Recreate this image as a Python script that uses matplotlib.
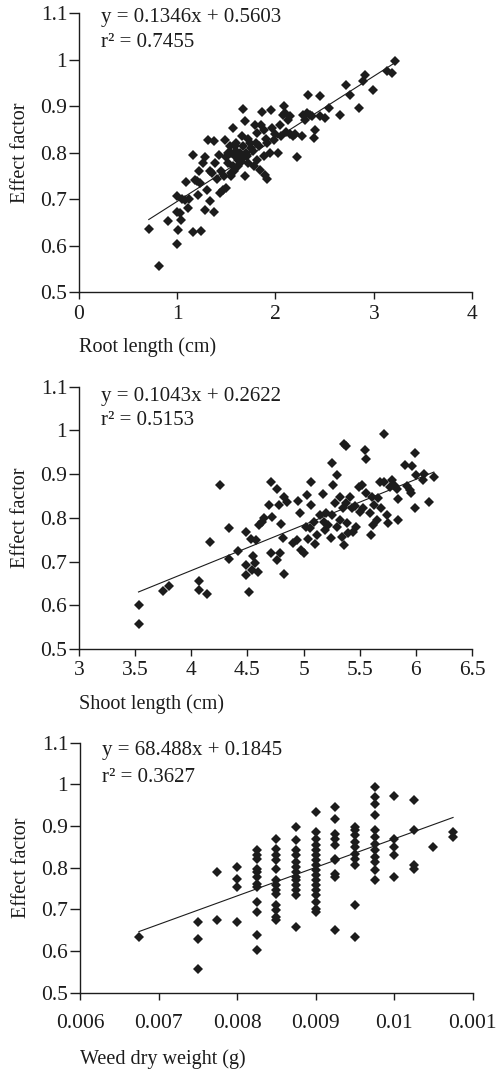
import numpy as np
import matplotlib
matplotlib.use("Agg")
import matplotlib.pyplot as plt

plt.rcParams["font.family"] = ["Liberation Serif", "DejaVu Serif"]

# Panel 1: root length vs effect factor
root_x = [0.71, 0.81, 0.91, 0.995, 1.01, 0.995, 1.03, 1.04, 0.995, 1.08, 1.09, 1.11, 1.16, 1.24,
          1.16, 1.20, 1.21, 1.23, 1.26, 1.28, 1.31, 1.30, 1.33, 1.35, 1.37, 1.37, 1.38, 1.40, 1.42,
          1.44, 1.47, 1.50, 1.49, 1.52, 1.54, 1.57, 1.55, 1.57, 1.59, 1.60, 1.59, 1.62, 1.64, 1.67,
          1.66, 1.67, 1.69, 1.69, 1.71, 1.72, 1.74, 1.77, 1.79, 1.81, 1.81, 1.83, 1.84, 1.86, 1.88,
          1.88, 1.89, 1.91, 1.91, 1.95, 1.96, 1.94, 1.98, 2.03, 2.06, 2.09, 2.10, 2.11, 2.13, 2.15,
          2.18, 2.22, 2.27, 2.28, 2.33, 2.32, 2.37, 2.39, 2.40, 2.45, 2.45, 2.50, 2.54, 2.66, 2.72,
          2.76, 2.85, 2.89, 2.91, 2.99, 3.13, 3.19, 3.22,
          1.45, 1.50, 1.55, 1.60, 1.65, 1.70, 1.75, 1.80, 1.62, 1.58, 1.68, 1.55, 1.48, 1.52, 2.00,
          2.05, 2.08, 2.15, 2.20, 2.30, 2.35, 1.85, 1.90, 1.78, 1.72, 1.33, 1.28, 1.22, 1.18, 1.12,
          1.05]
root_y = [0.635, 0.557, 0.652, 0.603, 0.634, 0.706, 0.670, 0.655, 0.673, 0.697, 0.737, 0.680, 0.630, 0.632,
          0.794, 0.738, 0.709, 0.734, 0.777, 0.677, 0.828, 0.720, 0.695, 0.756, 0.824, 0.673, 0.777, 0.742, 0.795,
          0.713, 0.720, 0.724, 0.828, 0.777, 0.813, 0.853, 0.756, 0.770, 0.792, 0.803, 0.813, 0.785, 0.799, 0.894,
          0.835, 0.813, 0.867, 0.749, 0.792, 0.777, 0.820, 0.803, 0.860, 0.842, 0.785, 0.813, 0.763, 0.888, 0.849,
          0.792, 0.752, 0.742, 0.820, 0.892, 0.853, 0.799, 0.828, 0.799, 0.835, 0.900, 0.885, 0.845, 0.871, 0.878,
          0.835, 0.790, 0.835, 0.881, 0.924, 0.885, 0.878, 0.831, 0.849, 0.921, 0.878, 0.874, 0.896, 0.881, 0.946,
          0.924, 0.896, 0.953, 0.967, 0.935, 0.975, 0.971, 0.996,
          0.760, 0.790, 0.800, 0.820, 0.780, 0.800, 0.810, 0.820, 0.770, 0.760, 0.790, 0.750, 0.750, 0.800, 0.840,
          0.860, 0.880, 0.840, 0.840, 0.870, 0.880, 0.860, 0.830, 0.770, 0.830, 0.760, 0.790, 0.760, 0.740, 0.700,
          0.700]

# Panel 2: shoot length vs effect factor
shoot_x = [3.53, 3.53, 3.75, 3.80, 4.07, 4.07, 4.14, 4.17, 4.26, 4.34, 4.34, 4.42, 4.49, 4.49, 4.49,
           4.51, 4.53, 4.54, 4.55, 4.57, 4.58, 4.59, 4.60, 4.63, 4.65, 4.69, 4.71, 4.72, 4.71, 4.76,
           4.76, 4.78, 4.79, 4.80, 4.82, 4.83, 4.83, 4.85, 4.91, 4.94, 4.95, 4.97, 4.98, 5.00, 5.03,
           5.02, 5.04, 5.07, 5.07, 5.06, 5.09, 5.10, 5.12, 5.15, 5.17, 5.18, 5.19, 5.20, 5.22, 5.24,
           5.25, 5.25, 5.26, 5.28, 5.30, 5.30, 5.32, 5.32, 5.34, 5.35, 5.36, 5.36, 5.38, 5.38, 5.39,
           5.40, 5.41, 5.43, 5.44, 5.46, 5.47, 5.49, 5.50, 5.52, 5.53, 5.55, 5.56, 5.56, 5.59, 5.60,
           5.61, 5.62, 5.63, 5.65, 5.66, 5.68, 5.69, 5.72, 5.72, 5.74, 5.75, 5.77, 5.79, 5.81, 5.83,
           5.84, 5.84, 5.90, 5.92, 5.95, 5.96, 5.97, 5.99, 5.99, 6.00, 6.06, 6.07, 6.12, 6.16]
shoot_y = [0.601, 0.557, 0.633, 0.645, 0.656, 0.636, 0.626, 0.744, 0.874, 0.776, 0.706, 0.725, 0.767, 0.692, 0.669,
           0.630, 0.751, 0.681, 0.713, 0.696, 0.749, 0.675, 0.784, 0.791, 0.799, 0.829, 0.881, 0.803, 0.719, 0.866,
           0.704, 0.829, 0.719, 0.787, 0.753, 0.848, 0.671, 0.837, 0.742, 0.749, 0.838, 0.810, 0.726, 0.719, 0.852,
           0.780, 0.751, 0.883, 0.829, 0.776, 0.791, 0.740, 0.761, 0.806, 0.855, 0.791, 0.772, 0.810, 0.784, 0.753,
           0.926, 0.806, 0.875, 0.833, 0.780, 0.898, 0.795, 0.848, 0.757, 0.822, 0.970, 0.738, 0.964, 0.833, 0.789,
           0.765, 0.848, 0.822, 0.768, 0.826, 0.780, 0.871, 0.814, 0.875, 0.822, 0.955, 0.935, 0.856, 0.810, 0.761,
           0.848, 0.784, 0.829, 0.795, 0.845, 0.883, 0.822, 0.991, 0.883, 0.806, 0.789, 0.871, 0.887, 0.873, 0.866,
           0.842, 0.795, 0.922, 0.873, 0.864, 0.856, 0.919, 0.948, 0.822, 0.898, 0.887, 0.900, 0.837, 0.893]

# Panel 3: weed dry weight vs effect factor (values grouped by weight class)
weed_groups = {
    0.00675: [0.633],
    0.00750: [0.669, 0.629, 0.558],
    0.00775: [0.790, 0.674],
    0.00800: [0.801, 0.773, 0.754, 0.670],
    0.00825: [0.842, 0.830, 0.822, 0.798, 0.790, 0.778, 0.762, 0.754, 0.718, 0.694, 0.638, 0.602],
    0.00850: [0.870, 0.846, 0.830, 0.818, 0.798, 0.770, 0.758, 0.746, 0.738, 0.710, 0.698, 0.682, 0.674],
    0.00875: [0.898, 0.866, 0.842, 0.830, 0.814, 0.802, 0.790, 0.778, 0.770, 0.758, 0.746, 0.734, 0.658],
    0.00900: [0.934, 0.886, 0.870, 0.854, 0.842, 0.830, 0.818, 0.806, 0.794, 0.782, 0.770, 0.758, 0.746,
              0.734, 0.718, 0.702, 0.694],
    0.00925: [0.946, 0.918, 0.882, 0.870, 0.854, 0.822, 0.818, 0.786, 0.778, 0.650],
    0.00950: [0.898, 0.890, 0.878, 0.862, 0.850, 0.834, 0.822, 0.806, 0.710, 0.634],
    0.00975: [0.994, 0.970, 0.954, 0.926, 0.890, 0.874, 0.858, 0.842, 0.826, 0.814, 0.794, 0.770],
    0.01000: [0.972, 0.870, 0.850, 0.830, 0.778],
    0.01025: [0.962, 0.890, 0.806, 0.798],
    0.01050: [0.850],
    0.01075: [0.886, 0.874],
}
weed_x = [k for k, v in weed_groups.items() for _ in v]
weed_y = [y for v in weed_groups.values() for y in v]

# regression equations as printed on the chart
fits = [(0.1346, 0.5603, "0.7455"), (0.1043, 0.2622, "0.5153"), (68.488, 0.1845, "0.3627")]

y_ticks = [0.5, 0.6, 0.7, 0.8, 0.9, 1.0, 1.1]
y_labels = ["0.5", "0.6", "0.7", "0.8", "0.9", "1", "1.1"]

panels = [
    dict(x=root_x, y=root_y, xlim=(0, 4), xticks=[0, 1, 2, 3, 4],
         xlabels=["0", "1", "2", "3", "4"], xlabel="Root length (cm)",
         pos=[0.1583, 0.7271, 0.7876, 0.2607], eq_y=(0.985, 0.895), pad=(4, 10)),
    dict(x=shoot_x, y=shoot_y, xlim=(3, 6.5), xticks=[3, 3.5, 4, 4.5, 5, 5.5, 6, 6.5],
         xlabels=["3", "3.5", "4", "4.5", "5", "5.5", "6", "6.5"], xlabel="Shoot length (cm)",
         pos=[0.1583, 0.3935, 0.7876, 0.2451], eq_y=(0.961, 0.873), pad=(4, 10)),
    dict(x=weed_x, y=weed_y, xlim=(0.006, 0.011), xticks=[0.006, 0.007, 0.008, 0.009, 0.010, 0.011],
         xlabels=["0.006", "0.007", "0.008", "0.009", "0.01", "0.001"], xlabel="Weed dry weight (g)",
         pos=[0.1603, 0.0722, 0.7870, 0.2336], eq_y=(0.971, 0.863), pad=(10, 12)),
]

ink = "#1c1c1c"
fig = plt.figure(figsize=(4.99, 10.70), dpi=100)

for p, (slope, icpt, r2) in zip(panels, fits):
    ax = fig.add_axes(p["pos"])
    ax.plot(p["x"], p["y"], linestyle="none", marker="D", ms=5.0, mew=0,
            color=ink, clip_on=False, zorder=3)

    xs = np.array([min(p["x"]), max(p["x"])])
    ax.plot(xs, slope * xs + icpt, color=ink, lw=0.8, zorder=2)

    ax.set_xlim(*p["xlim"])
    ax.set_ylim(0.5, 1.1)
    ax.set_xticks(p["xticks"])
    ax.set_xticklabels(p["xlabels"])
    ax.set_yticks(y_ticks)
    ax.set_yticklabels(y_labels)

    for side in ["top", "right"]:
        ax.spines[side].set_visible(False)
    for side in ["left", "bottom"]:
        ax.spines[side].set_linewidth(1.0)
        ax.spines[side].set_color(ink)
    ax.tick_params(axis="both", direction="out", colors=ink, labelsize=15.5, width=1.0)
    ax.tick_params(axis="y", length=7, pad=1.5)
    ax.tick_params(axis="x", length=5, pad=p["pad"][0])

    ax.set_ylabel("Effect factor", fontsize=14.5, color=ink, labelpad=7)
    ax.set_xlabel(p["xlabel"], fontsize=14.5, color=ink, loc="left", labelpad=p["pad"][1])

    if slope > 10:
        eq = f"y = {slope:.3f}x + {icpt:.4f}"
    else:
        eq = f"y = {slope:.4f}x + {icpt:.4f}"
    ax.text(0.055, p["eq_y"][0], eq, transform=ax.transAxes, fontsize=15,
            color=ink, va="center", ha="left")
    ax.text(0.055, p["eq_y"][1], f"r\u00b2 = {r2}", transform=ax.transAxes, fontsize=15,
            color=ink, va="center", ha="left")

fig.savefig("out.png", dpi=100)
